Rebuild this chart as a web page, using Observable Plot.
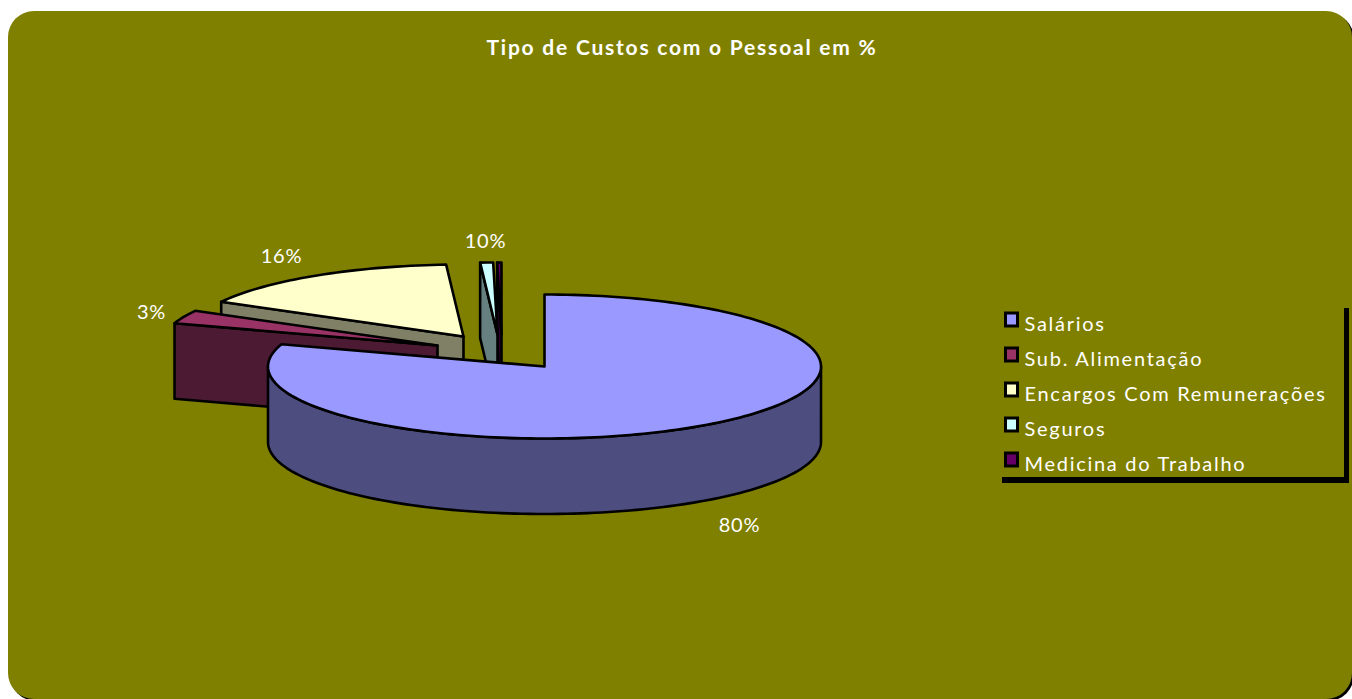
<!DOCTYPE html>
<html><head><meta charset="utf-8">
<script src="https://cdn.jsdelivr.net/npm/d3@7"></script>
<script src="https://cdn.jsdelivr.net/npm/@observablehq/plot@0.6"></script>
<style>
html,body{margin:0;padding:0;background:#fff;overflow:hidden}
.ttl{letter-spacing:1.78px}
.lg{letter-spacing:1.72px}
.pct{letter-spacing:.8px}
</style></head><body>
<script>
const title = "Tipo de Custos com o Pessoal em %";
const categories = ["Salários","Sub. Alimentação","Encargos Com Remunerações","Seguros","Medicina do Trabalho"];
const values = [80,3,16,0.75,0.25];
const topColors = ["#9999ff","#993366","#ffffcc","#ccffff","#660066"];
const wallColors = ["#4d4d80","#4d1a33","#808066","#668080","#330033"];
const pctLabels = ["80%","3%","16%","10%"];
const pctX = [739,151,281,485];
const pctY = [525,312,256,241];
const offX = [0,-107,-81,-47,-43];
const offY = [0,-21,-30,-32,-32];
const legendY = [323,358,393,428,463];

const cx=544, cy=366, rx=276.5, ry=72, depth=75.5;
let acc=0;
const slices=values.map((v,i)=>{const a0=acc*3.6;acc+=v;const a1=acc*3.6;
  return {i,a0,a1,c:[cx+offX[i],cy+offY[i]]};});
const pt=(c,a,d=0)=>{const r=a*Math.PI/180;return [c[0]+rx*Math.sin(r),c[1]-ry*Math.cos(r)+d];};
const arc=(c,a0,a1,d=0)=>{const n=Math.max(2,Math.ceil(Math.abs(a1-a0)/1.5));
  return d3.range(n+1).map(k=>pt(c,a0+(a1-a0)*k/n,d));};
const poly=(pts,fill)=>Plot.line([...pts,pts[0],pts[1]],{x:d=>d[0],y:d=>d[1],fill,stroke:"#000",strokeWidth:2.6,strokeLinejoin:"round",curve:"linear"});
const sliceMarks=s=>{
  const m=[];
  if(s.i===0){
    m.push(poly([...arc(s.c,90,270),...arc(s.c,270,90,depth)],wallColors[0]));
  }else{
    const p=pt(s.c,s.a0);
    m.push(poly([p,pt(s.c,s.a0,depth),[s.c[0],s.c[1]+depth],s.c],wallColors[s.i]));
  }
  m.push(poly([s.c,...arc(s.c,s.a0,s.a1)],topColors[s.i]));
  return m;
};
const order=[4,3,2,1,0];
const legend=categories.map((name,i)=>({name,y:legendY[i],color:topColors[i]}));
const shadow=[{x1:1002,x2:1349,y1:477,y2:483},{x1:1344,x2:1349,y1:308,y2:483}];
const pct=pctLabels.map((t,i)=>({t,x:pctX[i],y:pctY[i]}));

const chart=Plot.plot({
  width:1352,height:699,margin:0,
  x:{domain:[0,1352],range:[0,1352],axis:null},
  y:{domain:[0,699],range:[0,699],axis:null},
  style:{background:"transparent"},
  marks:[
    Plot.rect([{x1:10,x2:1354,y1:13,y2:701}],{x1:"x1",x2:"x2",y1:"y1",y2:"y2",fill:"#000",rx:26}),
    Plot.rect([{x1:8,x2:1352,y1:11,y2:699}],{x1:"x1",x2:"x2",y1:"y1",y2:"y2",fill:"#808000",rx:26}),
    ...order.flatMap(i=>sliceMarks(slices[i])),
    Plot.rect(shadow,{x1:"x1",x2:"x2",y1:"y1",y2:"y2",fill:"#000"}),
    Plot.rect(legend,{x1:()=>1005.5,x2:()=>1017.5,y1:d=>d.y-10,y2:d=>d.y+3,fill:"color",stroke:"#000",strokeWidth:3}),
    Plot.text(legend,{x:()=>1024,y:d=>d.y+1,text:"name",textAnchor:"start",fill:"#fff",fontSize:20,fontFamily:"Lato",className:"lg"}),
    Plot.text(pct,{x:"x",y:"y",text:"t",fill:"#fff",fontSize:20,fontFamily:"Lato",className:"pct"}),
    Plot.text([title],{x:()=>681.5,y:()=>48,text:d=>d,fill:"#fff",fontSize:21,fontWeight:"bold",fontFamily:"Lato",className:"ttl"})
  ]
});
document.body.appendChild(chart);
</script></body></html>
